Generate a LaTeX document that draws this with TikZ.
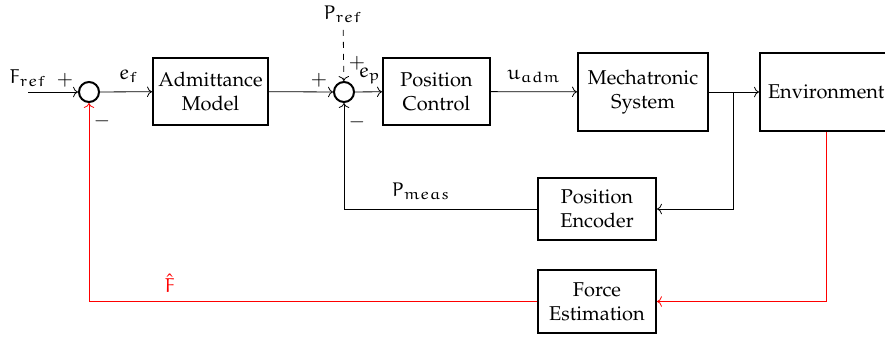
\documentclass[tikz,border=0pt]{standalone}
\usepackage[T1]{fontenc}
\usepackage{mathpazo}
\DeclareMathAlphabet{\mathEu}{U}{eur}{m}{n}
\newcommand{\eu}[1]{\mathEu{#1}}
\usetikzlibrary{arrows.meta}
\begin{document}
\begin{tikzpicture}[x=0.5pt,y=-0.5pt,
  block/.style={draw,line width=1pt,align=center,inner sep=2pt},
  sumnode/.style={draw,circle,line width=1pt,minimum size=10pt,inner sep=0pt},
  conn/.style={->,line width=0.4pt},
  fb/.style={->,line width=0.4pt,red}]
\useasboundingbox (0,0) rectangle (885,338);

% blocks
\node[block,minimum width=57.5pt,minimum height=33.5pt] (adm) at (210.5,91.5) {Admittance\\Model};
\node[block,minimum width=53.5pt,minimum height=33.5pt] (pc) at (436.5,91.5) {Position\\Control};
\node[block,minimum width=65pt,minimum height=39pt] (mech) at (643,92) {Mechatronic\\System};
\node[block,minimum width=66pt,minimum height=39pt,text width=58pt,align=left] (env) at (826,92) {Environment};
\node[block,minimum width=59pt,minimum height=31pt] (enc) at (597,209) {Position\\Encoder};
\node[block,minimum width=59pt,minimum height=31.5pt] (fe) at (597,301.5) {Force\\Estimation};

% summing junctions
\node[sumnode] (s1) at (89,92) {};
\node[sumnode] (s2) at (344,92) {};

% signs and signal labels
\node (fref) at (28,78) {$\eu{F}_{\eu{ref}}$};
\coordinate (in) at (28,92);
\node at (65,80) {$+$};
\node at (102,121) {$-$};
\node (pref) at (343,14) {$\eu{P}_{\eu{ref}}$};
\node at (319,80) {$+$};
\node at (357,63) {$+$};
\node at (370,76) {$\eu{e}_{\eu{p}}$};
\node at (357,122) {$-$};
\coordinate (br) at (733,92);

% forward path
\draw[conn] (in) -- (s1);
\draw[conn] (s1) -- node[above=1pt,pos=0.55] {$\eu{e}_{\eu{f}}$} (adm);
\draw[conn] (adm) -- (s2);
\draw[conn,dashed] (pref) -- (s2);
\draw[conn] (s2) -- (pc);
\draw[conn] (pc) -- node[above=1pt] {$\eu{u}_{\eu{adm}}$} (mech);
\draw[conn] (mech) -- (env);

% position feedback
\draw[conn] (br) |- (enc);
\draw[conn] (enc) -| node[pos=0.3,above=1pt] {$\eu{P}_{\eu{meas}}$} (s2);

% force feedback
\draw[fb] (env) |- (fe);
\draw[fb] (fe) -| node[pos=0.41,above=1pt] {$\hat{\eu{F}}$} (s1);
\end{tikzpicture}
\end{document}
